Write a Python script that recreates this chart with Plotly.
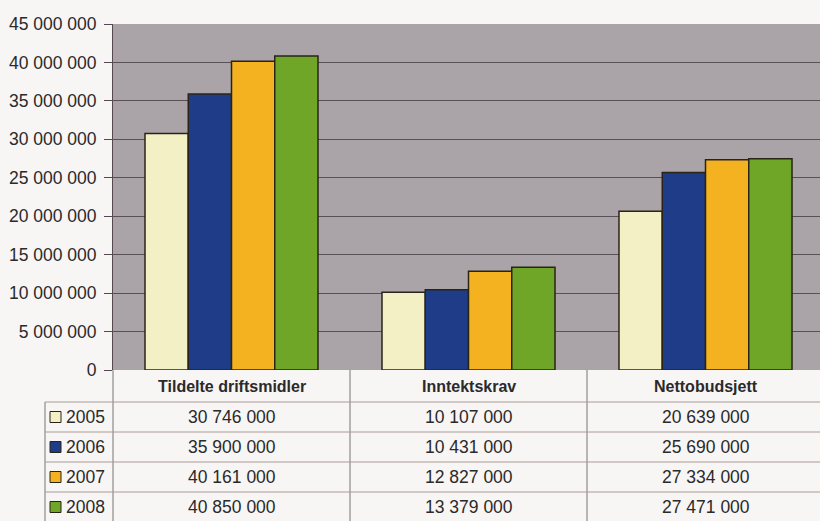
import plotly.graph_objects as go

# ---------------- data ----------------
categories = ["Tildelte driftsmidler", "Inntektskrav", "Nettobudsjett"]
years = ["2005", "2006", "2007", "2008"]
values_2005 = [30746000, 10107000, 20639000]
values_2006 = [35900000, 10431000, 25690000]
values_2007 = [40161000, 12827000, 27334000]
values_2008 = [40850000, 13379000, 27471000]
y_ticks = [0, 5000000, 10000000, 15000000, 20000000, 25000000,
           30000000, 35000000, 40000000, 45000000]

series = [values_2005, values_2006, values_2007, values_2008]
colors = ["#f4f0c6", "#1e3c87", "#f4b120", "#6fa628"]

# ---------------- layout geometry (pixels) ----------------
W, H = 820, 521
PLOT_L, PLOT_T, PLOT_B = 113, 24, 370
PLOT_W = W - PLOT_L
PLOT_H = PLOT_B - PLOT_T
CAT_W = 237.0


def py(ypix):
    return (PLOT_B - ypix) / PLOT_H


def px(xpix):
    return (xpix - PLOT_L) / PLOT_W


def fmt(v):
    return f"{v:,}".replace(",", " ")


FONT = "Liberation Sans, Arial, sans-serif"
TXT = "#2a2a2a"
FS = 17.5

fig = go.Figure()
for yr, vals, col in zip(years, series, colors):
    fig.add_trace(go.Bar(
        name=yr, x=list(range(len(categories))), y=vals,
        marker=dict(color=col, line=dict(color="#2a2418", width=1.5)),
    ))

x_max = -0.5 + PLOT_W / CAT_W

shapes = []
annotations = []

# table geometry
header_top, header_bot = PLOT_B, 402
row_h = 30
row_tops = [header_bot + i * row_h for i in range(4)]
left_col_x = 45
vline_col = "#7a7474"
hline_col = "#a99c98"

shapes.append(dict(type="line", xref="paper", yref="paper",
                   x0=0, x1=0, y0=py(header_top), y1=py(H + 2),
                   line=dict(color=vline_col, width=1)))
for sep in [0.5, 1.5]:
    shapes.append(dict(type="line", xref="x", yref="paper",
                       x0=sep, x1=sep, y0=py(header_top), y1=py(H + 2),
                       line=dict(color=vline_col, width=1)))
shapes.append(dict(type="line", xref="paper", yref="paper",
                   x0=px(left_col_x), x1=px(left_col_x),
                   y0=py(header_bot), y1=py(H + 2),
                   line=dict(color=vline_col, width=1)))
for rt in row_tops:
    shapes.append(dict(type="line", xref="paper", yref="paper",
                       x0=px(left_col_x), x1=1.0, y0=py(rt), y1=py(rt),
                       line=dict(color=hline_col, width=1)))

for i, cat in enumerate(categories):
    annotations.append(dict(xref="x", yref="paper", x=i,
                            y=py((header_top + header_bot) / 2 + 1),
                            text="<b>" + cat + "</b>", showarrow=False,
                            font=dict(family=FONT, size=16, color=TXT),
                            xanchor="center", yanchor="middle"))

for r, (yr, vals, col) in enumerate(zip(years, series, colors)):
    yc = row_tops[r] + row_h / 2
    shapes.append(dict(type="rect", xref="paper", yref="paper",
                       x0=px(50), x1=px(61), y0=py(yc - 5.5), y1=py(yc + 5.5),
                       fillcolor=col, line=dict(color="#2a2418", width=1)))
    annotations.append(dict(xref="paper", yref="paper", x=px(64), y=py(yc),
                            text=yr, showarrow=False,
                            font=dict(family=FONT, size=FS, color=TXT),
                            xanchor="left", yanchor="middle"))
    for i, v in enumerate(vals):
        annotations.append(dict(xref="x", yref="paper", x=i, y=py(yc),
                                text=fmt(v), showarrow=False,
                                font=dict(family=FONT, size=FS, color=TXT),
                                xanchor="center", yanchor="middle"))

fig.update_layout(
    width=W, height=H,
    margin=dict(l=PLOT_L, r=0, t=PLOT_T, b=H - PLOT_B, pad=0),
    paper_bgcolor="#f8f5f5",
    plot_bgcolor="#aaa3a7",
    barmode="group", bargap=0.27, bargroupgap=0,
    showlegend=False,
    separators=", ",
    font=dict(family=FONT, size=FS, color=TXT),
    xaxis=dict(range=[-0.5, x_max], showticklabels=False, showgrid=False,
               zeroline=False, showline=False, fixedrange=True),
    yaxis=dict(range=[0, 45000000], tickvals=y_ticks, tickformat=",d",
               showgrid=True, gridcolor="#5a4f55", gridwidth=1,
               zeroline=False, showline=True, linecolor="#55494f",
               linewidth=1, ticks="outside", ticklen=8,
               tickcolor="#55494f", ticklabelstandoff=4,
               tickfont=dict(family=FONT, size=FS, color=TXT)),
    shapes=shapes,
    annotations=annotations,
)

fig.write_html(
    "out.html",
    config={"displayModeBar": False},
    post_script="document.body.style.margin='0';document.body.style.padding='0';"
                "document.body.style.overflow='hidden';",
)
